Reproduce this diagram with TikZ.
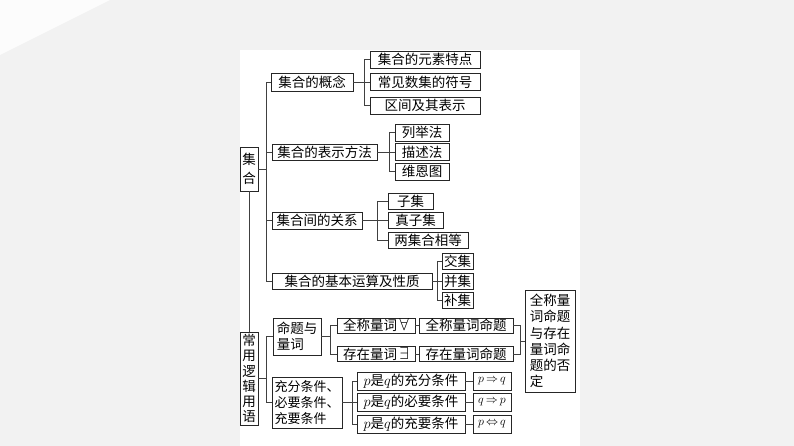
\documentclass[tikz,border=0pt]{standalone}
\usepackage{fontspec}
\newfontfamily\cjk{Noto Sans CJK SC}
\begin{document}
\begin{tikzpicture}[x=1pt,y=-1pt,
  bx/.style={draw=black!85, line width=0.9pt, inner sep=0pt, font=\cjk\fontsize{13.5}{16}\selectfont, align=center},
  ln/.style={draw=black!75, line width=0.9pt}]
\fill[black!5] (0,0) rectangle (794,446);
\fill[white!75!black!5] (0,0) -- (110,0) -- (0,55) -- cycle;
\fill[white] (240,50) rectangle (580,446);
\useasboundingbox (0,0) rectangle (794,446);

% left vertical boxes
\node[bx, minimum width=18pt, minimum height=44pt, font=\cjk\fontsize{13.5}{19}\selectfont] (jihe) at (249,169) {集\\合};
\node[bx, minimum width=18pt, minimum height=93pt, font=\cjk\fontsize{13.5}{15.2}\selectfont] (luoji) at (249,378.5) {常\\用\\逻\\辑\\用\\语};

% set branch
\node[bx, minimum width=82pt, minimum height=18pt] (gn) at (312,82) {集合的概念};
\node[bx, minimum width=110pt, minimum height=17pt] (a1) at (425,59.5) {集合的元素特点};
\node[bx, minimum width=110pt, minimum height=17pt] (a2) at (425,82) {常见数集的符号};
\node[bx, minimum width=110pt, minimum height=17pt] (a3) at (425,105.5) {区间及其表示};

\node[bx, minimum width=105pt, minimum height=16pt] (bs) at (324.5,152) {集合的表示方法};
\node[bx, minimum width=54pt, minimum height=17pt] (b1) at (422,132.5) {列举法};
\node[bx, minimum width=54pt, minimum height=17pt] (b2) at (422,152) {描述法};
\node[bx, minimum width=54pt, minimum height=17pt] (b3) at (422,171.5) {维恩图};

\node[bx, minimum width=90pt, minimum height=17pt] (gx) at (317,220.5) {集合间的关系};
\node[bx, minimum width=45pt, minimum height=16pt] (c1) at (410.5,201) {子集};
\node[bx, minimum width=55pt, minimum height=16pt] (c2) at (415.5,220.5) {真子集};
\node[bx, minimum width=80pt, minimum height=16pt] (c3) at (428,240) {两集合相等};

\node[bx, minimum width=160pt, minimum height=16pt] (ys) at (352,281) {集合的基本运算及性质};
\node[bx, minimum width=31pt, minimum height=16pt] (d1) at (457.5,261.5) {交集};
\node[bx, minimum width=31pt, minimum height=16pt] (d2) at (457.5,281) {并集};
\node[bx, minimum width=31pt, minimum height=16pt] (d3) at (457.5,300) {补集};

% logic branch
\node[bx, minimum width=48pt, minimum height=37pt, align=left] (mt) at (297,336.5) {命题与\\量词};
\node[bx, minimum width=78pt, minimum height=15pt] (e1) at (376,325.5) {全称量词\,{\fontsize{16}{16}\selectfont$\forall$}};
\node[bx, minimum width=94pt, minimum height=15pt] (e2) at (466,325.5) {全称量词命题};
\node[bx, minimum width=78pt, minimum height=15pt] (f1) at (376,354) {存在量词\,{\fontsize{16}{16}\selectfont$\exists$}};
\node[bx, minimum width=94pt, minimum height=15pt] (f2) at (466,354) {存在量词命题};
\node[bx, minimum width=50pt, minimum height=102pt, align=left, font=\cjk\fontsize{13.5}{16.3}\selectfont] (fb) at (550,341) {全称量\\词命题\\与存在\\量词命\\题的否\\定};

\node[bx, minimum width=70pt, minimum height=51pt, align=left, font=\cjk\fontsize{13}{16}\selectfont] (cf) at (307,402.5) {充分条件、\\必要条件、\\充要条件};
\node[bx, minimum width=108pt, minimum height=18pt] (g1) at (411,381) {{\fontsize{15}{16}\selectfont$p$}是{\fontsize{15}{16}\selectfont$q$}的充分条件};
\node[bx, minimum width=108pt, minimum height=18pt] (g2) at (411,402.5) {{\fontsize{15}{16}\selectfont$p$}是{\fontsize{15}{16}\selectfont$q$}的必要条件};
\node[bx, minimum width=108pt, minimum height=18pt] (g3) at (411,424) {{\fontsize{15}{16}\selectfont$p$}是{\fontsize{15}{16}\selectfont$q$}的充要条件};
\node[bx, minimum width=38pt, minimum height=18pt, font=\fontsize{13}{16}\selectfont] (h1) at (492,381) {$p\mskip-2mu\Rightarrow\mskip-2mu q$};
\node[bx, minimum width=38pt, minimum height=18pt, font=\fontsize{13}{16}\selectfont] (h2) at (492,402.5) {$q\mskip-2mu\Rightarrow\mskip-2mu p$};
\node[bx, minimum width=38pt, minimum height=18pt, font=\fontsize{13}{16}\selectfont] (h3) at (492,424) {$p\mskip-2mu\Leftrightarrow\mskip-2mu q$};

% junction coordinates
\coordinate (t1) at (266,169);
\coordinate (t2) at (266,378.5);
\coordinate (ka) at (364,82);
\coordinate (kb) at (389,152);
\coordinate (kc) at (377,220.5);
\coordinate (kd) at (437,281);
\coordinate (ke) at (330,336.5);
\coordinate (kf) at (520,341);
\coordinate (kg) at (352,402.5);

% connectors
\draw[ln] (jihe.south) -- (luoji.north);
\draw[ln] (jihe.east) -- (t1);
\draw[ln] (gn.west) -| (t1);
\draw[ln] (ys.west) -| (t1);
\draw[ln] (bs.west) -- (bs.west -| t1);
\draw[ln] (gx.west) -- (gx.west -| t1);

\draw[ln] (gn.east) -- (ka);
\draw[ln] (a1.west) -| (ka);
\draw[ln] (a3.west) -| (ka);
\draw[ln] (a2.west) -- (ka);

\draw[ln] (bs.east) -- (kb);
\draw[ln] (b1.west) -| (kb);
\draw[ln] (b3.west) -| (kb);
\draw[ln] (b2.west) -- (kb);

\draw[ln] (gx.east) -- (kc);
\draw[ln] (c1.west) -| (kc);
\draw[ln] (c3.west) -| (kc);
\draw[ln] (c2.west) -- (kc);

\draw[ln] (ys.east) -- (kd);
\draw[ln] (d1.west) -| (kd);
\draw[ln] (d3.west) -| (kd);
\draw[ln] (d2.west) -- (kd);

\draw[ln] (luoji.east) -- (t2);
\draw[ln] (mt.west) -| (t2);
\draw[ln] (cf.west) -| (t2);

\draw[ln] (mt.east) -- (ke);
\draw[ln] (e1.west) -| (ke);
\draw[ln] (f1.west) -| (ke);
\draw[ln] (e1.east) -- (e2.west);
\draw[ln] (f1.east) -- (f2.west);
\draw[ln] (e2.east) -| (kf);
\draw[ln] (f2.east) -| (kf);
\draw[ln] (kf) -- (fb.west);

\draw[ln] (cf.east) -- (kg);
\draw[ln] (g1.west) -| (kg);
\draw[ln] (g3.west) -| (kg);
\draw[ln] (g2.west) -- (kg);
\draw[ln] (g1.east) -- (h1.west);
\draw[ln] (g2.east) -- (h2.west);
\draw[ln] (g3.east) -- (h3.west);
\end{tikzpicture}
\end{document}
